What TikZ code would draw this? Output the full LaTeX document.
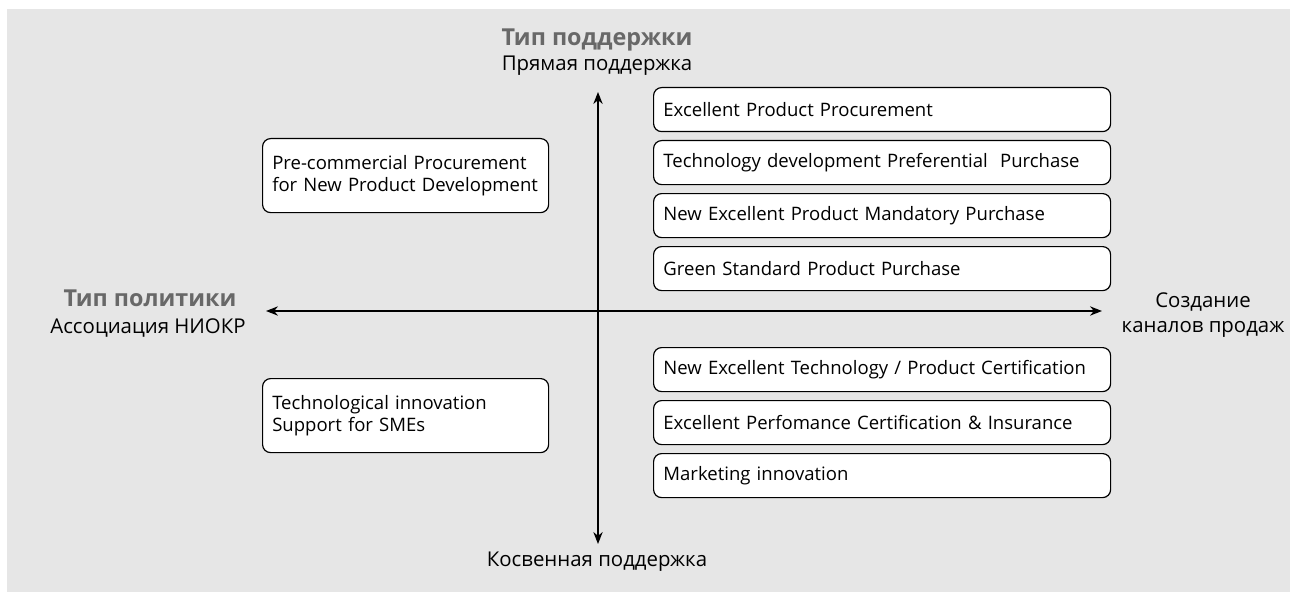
\documentclass[tikz,border=0pt]{standalone}
\usepackage{fontspec}
\setmainfont{Open Sans}
\usetikzlibrary{arrows.meta}
\definecolor{bggray}{HTML}{E6E6E6}
\definecolor{labgray}{HTML}{686868}
\tikzset{
  item/.style={draw=black, fill=white, rounded corners=6pt, line width=0.9pt, anchor=north west, inner xsep=6pt, inner ysep=0pt, align=left, minimum width=342.75pt, minimum height=33pt, text width=328pt, font=\fontsize{13.9}{16.5}\selectfont},
  litem/.style={item, minimum width=214.5pt, minimum height=55.5pt, text width=200pt},
  axis/.style={line width=1pt, {Stealth[length=9pt,width=7pt]}-{Stealth[length=9pt,width=7pt]}},
  lab/.style={font=\fontsize{15.3}{20}\selectfont, align=center, anchor=base, inner sep=0pt},
  boldlab/.style={font=\fontsize{17.5}{20}\selectfont\bfseries, text=labgray, align=center, anchor=base, inner sep=0pt}
}
\begin{document}
\begin{tikzpicture}[x=0.75pt,y=-0.75pt]
\useasboundingbox (0,0) rectangle (1290,592);
\fill[bggray] (7,9) rectangle (1290,592);
% boxes right top
\node[item] (b1) at (653,87) {Excellent Product Procurement};
\node[item] (b2) at (653,140) {Technology development Preferential\ \ Purchase};
\node[item] (b3) at (653,193) {New Excellent Product Mandatory Purchase};
\node[item] (b4) at (653,246) {Green Standard Product Purchase};
% boxes right bottom
\node[item] (b5) at (653,347) {New Excellent Technology / Product Certification};
\node[item] (b6) at (653,400) {Excellent Perfomance Certification \& Insurance};
\node[item] (b7) at (653,453) {Marketing innovation};
% left boxes
\node[litem] (l1) at (262,138) {Pre-commercial Procurement\\for New Product Development};
\node[litem] (l2) at (262,378) {Technological innovation\\Support for SMEs};
% labels
\node[boldlab] (tp) at (597,46) {Тип поддержки};
\node[lab] (tp2) at (597,71) {Прямая поддержка};
\node[lab] (kos) at (597,566) {Косвенная поддержка};
\node[boldlab] (pol) at (150,306) {Тип политики};
\node[lab] (pol2) at (148,333) {Ассоциация НИОКР};
\node[lab] (sozd) at (1203,307) {Создание};
\node[lab] (kan) at (1203,332) {каналов продаж};
% axes
\coordinate (top) at (598,92);
\coordinate (bot) at (598,544);
\coordinate (lft) at (266,311);
\coordinate (rgt) at (1102,311);
\draw[axis] (top) -- (bot);
\draw[axis] (lft) -- (rgt);
\end{tikzpicture}
\end{document}
